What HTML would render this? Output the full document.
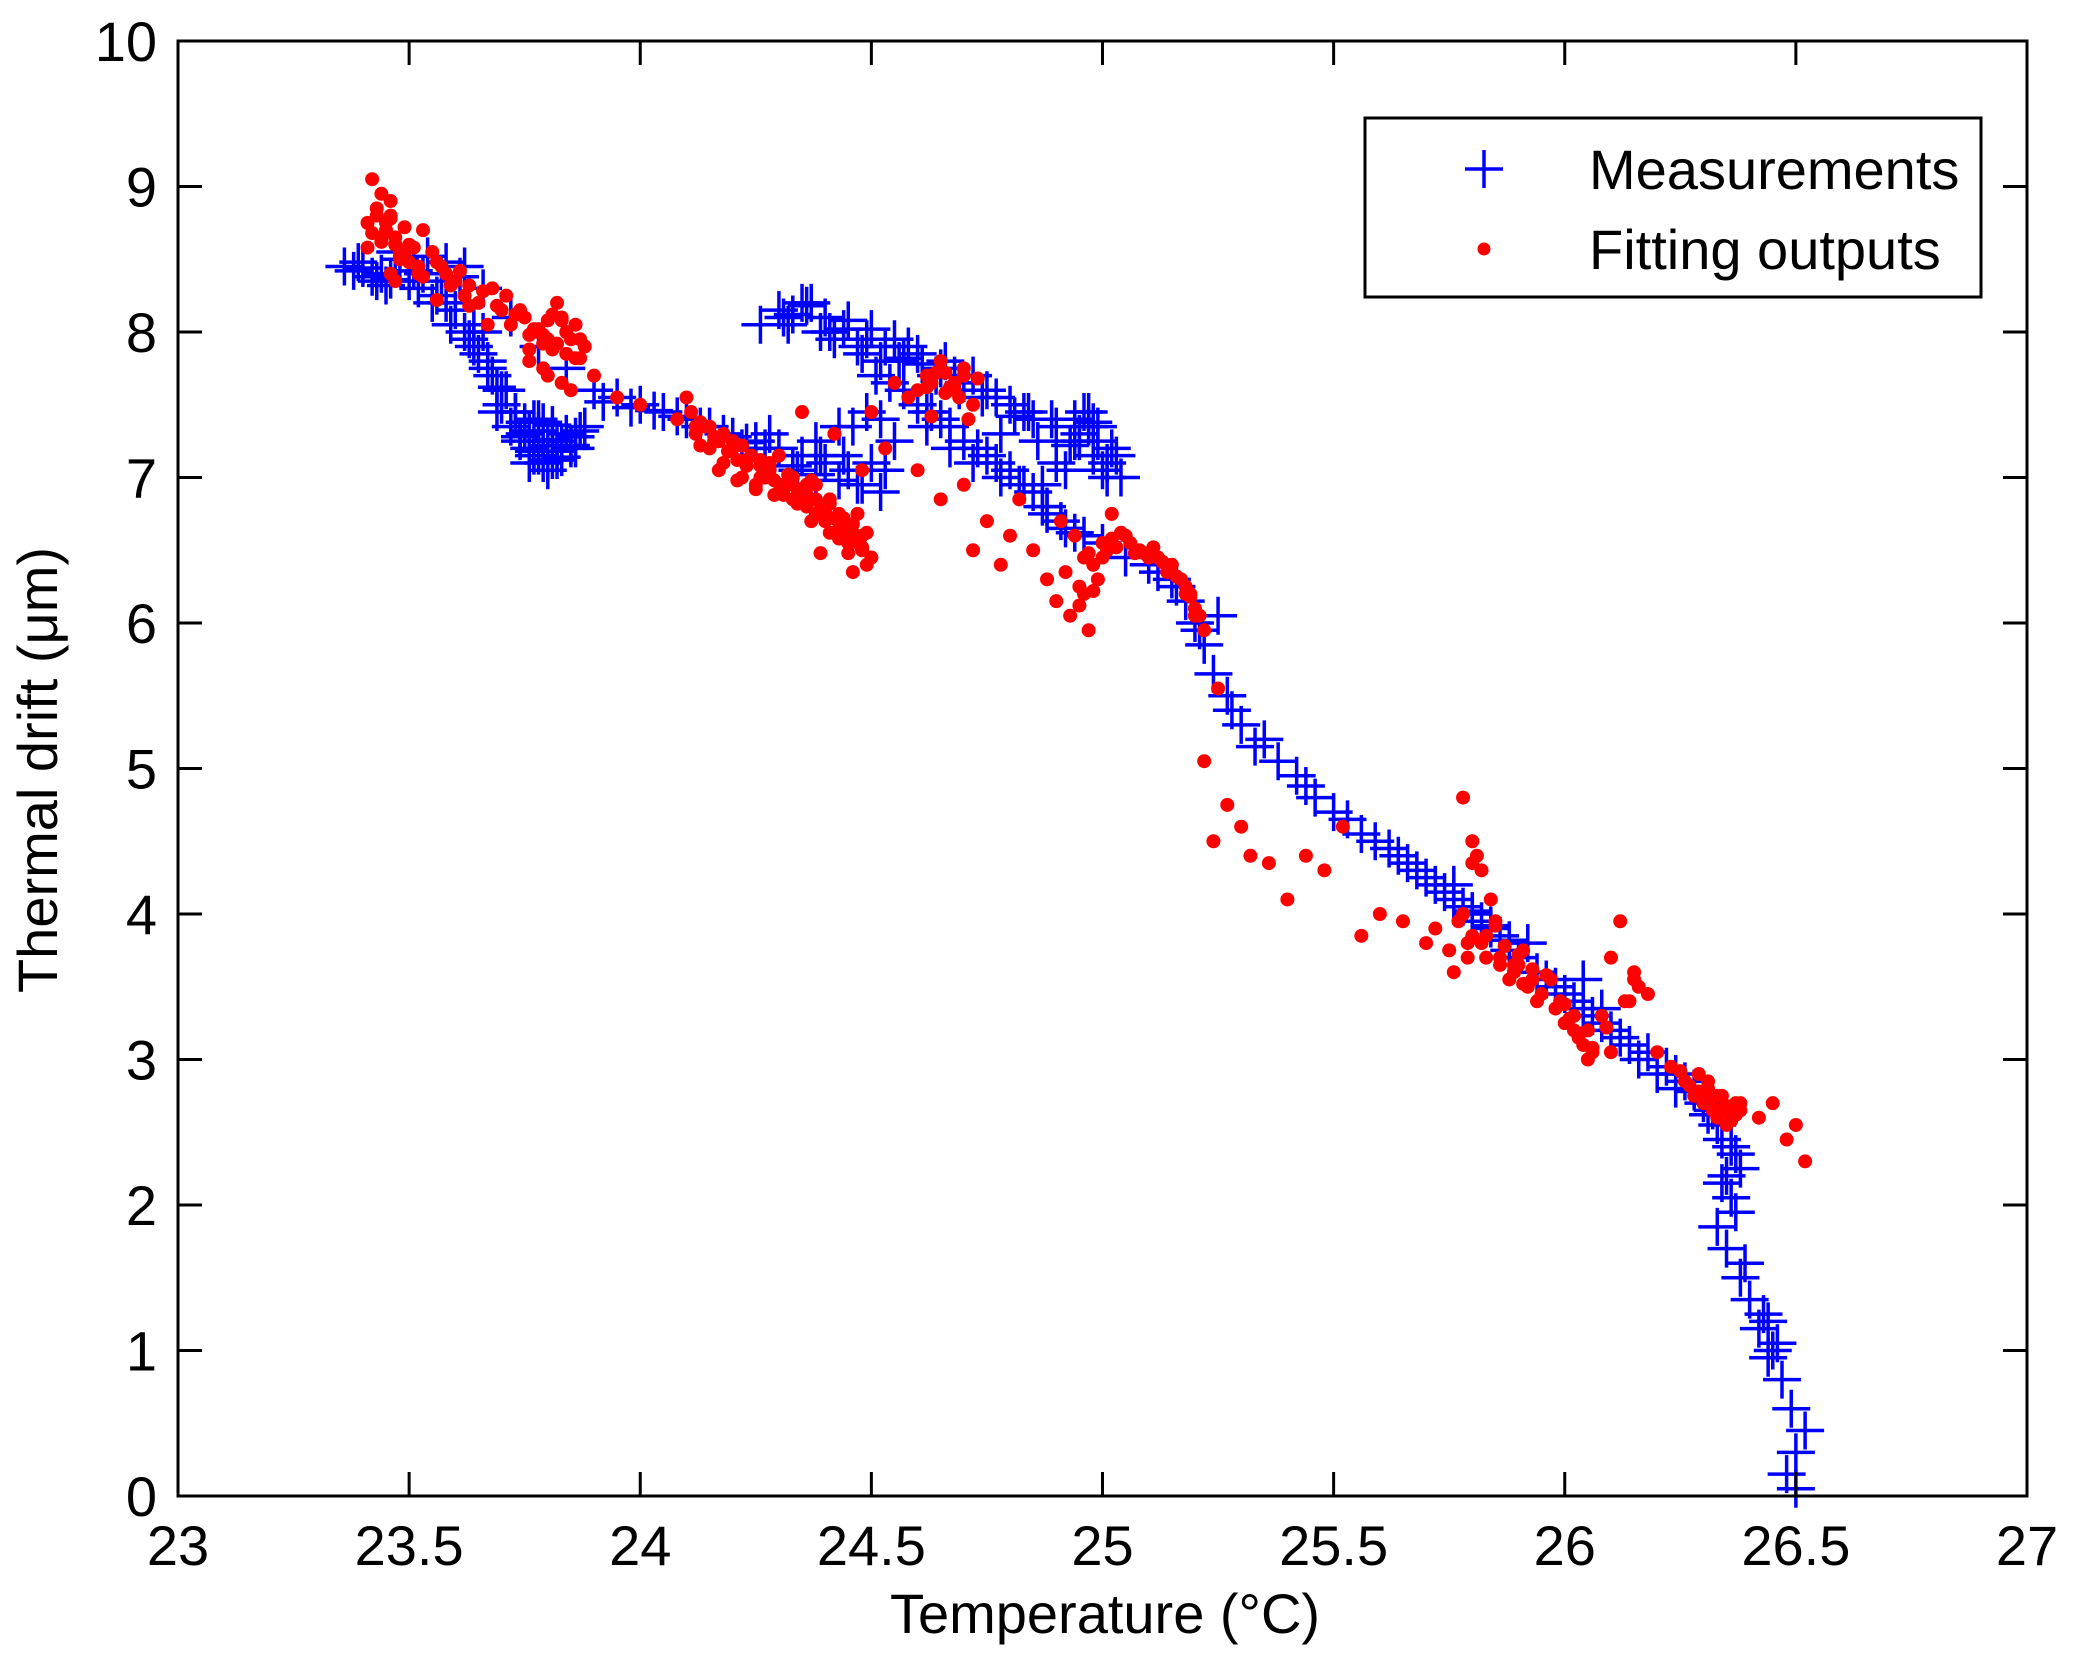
<!DOCTYPE html>
<html><head><meta charset="utf-8"><style>
html,body{margin:0;padding:0;background:#fff}
svg{display:block}
text{font-family:"Liberation Sans",Arial,sans-serif;fill:#000}
</style></head><body>
<svg id="chart" width="2079" height="1653" viewBox="0 0 2079 1653" xmlns="http://www.w3.org/2000/svg">
<rect x="0" y="0" width="2079" height="1653" fill="#fff"/>
<g id="marks"></g>
<rect x="178" y="41" width="1849" height="1455" fill="none" stroke="#000" stroke-width="3"/>
<g id="axes"></g>
<text x="0" y="0" font-size="56" text-anchor="middle" transform="translate(57,770) rotate(-90)">Thermal drift (μm)</text>
<text x="1105" y="1633" font-size="56" text-anchor="middle">Temperature (°C)</text>
<g>
<rect x="1365" y="118" width="616" height="179" fill="#fff" stroke="#000" stroke-width="3"/>
<g>
<path d="M1465 169 H1503 M1484 150 V188" stroke="#0000ff" stroke-width="3.5"/>
<text x="1589" y="189" font-size="56">Measurements</text>
</g>
<g>
<circle cx="1484" cy="249" r="6.5" fill="#ff0000"/>
<text x="1589" y="269" font-size="56">Fitting outputs</text>
</g>
</g>
</svg>
<script>
const xTicks=[23,23.5,24,24.5,25,25.5,26,26.5,27];
const xTickLabels=["23","23.5","24","24.5","25","25.5","26","26.5","27"];
const yTicks=[0,1,2,3,4,5,6,7,8,9,10];
const yTickLabels=["0","1","2","3","4","5","6","7","8","9","10"];
const measX=[23.36,23.38,23.40,23.42,23.44,23.46,23.48,23.50,23.52,23.54,23.56,23.58,23.60,23.62,23.63,23.65,23.66,23.68,23.70,23.72,23.74,23.76,23.78,23.80,23.82,23.84,23.86,23.88,23.72,23.78,23.84,23.90,23.95,24.00,24.05,24.10,24.15,24.20,24.25,24.30,24.35,24.40,24.45,24.48,24.50,24.52,24.54,24.56,24.30,24.33,24.36,24.40,24.42,24.45,24.48,24.50,24.55,24.60,24.65,24.70,24.75,24.80,24.85,24.90,24.95,24.98,25.00,25.02,24.96,24.60,24.65,24.70,24.75,24.80,24.85,24.88,24.92,24.96,25.00,25.05,25.10,25.15,25.18,25.20,25.22,25.25,25.24,25.27,25.30,25.33,25.38,25.42,25.46,25.50,25.56,25.62,25.66,25.70,25.74,25.78,25.82,25.86,25.90,25.94,25.98,26.02,26.06,26.10,26.14,26.18,26.22,26.26,26.30,26.33,26.36,26.38,26.36,26.33,26.35,26.38,26.40,26.42,26.45,26.47,26.49,26.52,26.50,26.48,26.50,
23.75,23.79,23.81,23.77,23.83,23.73,23.70,23.66,23.58,23.64,24.38,24.34,24.44,24.28,24.22,24.46,24.53,24.58,24.62,24.68,24.78,24.83,24.92,24.99,25.03,24.94,24.87,24.90,25.84,25.88,25.80,25.92,25.76,26.08,26.12,26.04,26.24,26.28,26.32,26.37,26.34,26.44,26.46,
23.76,23.78,23.80,23.82,23.79,23.77,23.74,23.81,23.85,23.87,23.69,23.71,23.67,23.62,23.57,23.53,23.47,23.43,24.32,24.37,24.41,24.47,24.52,24.57,24.63,24.67,24.73,24.77,24.82,24.88,24.94,24.97,25.01,24.99,24.51,24.49,24.55,24.43,24.39,24.47,24.52,
23.39,23.45,23.51,23.55,23.59,23.61,23.64,23.67,23.69,23.73,23.75,23.77,23.79,23.81,23.83,23.85,23.76,23.80,23.78,23.82,23.74,23.86,23.92,23.98,24.03,24.08,24.13,24.18,24.23,24.27,24.33,24.38,24.43,24.26,24.31,24.35,24.39,24.44,24.49,24.53,24.57,24.61,24.64,24.66,24.69,24.72,24.74,24.77,24.81,24.84,24.86,24.89,24.93,24.97,25.01,25.04,24.95,24.98,24.62,24.67,24.72,24.78,24.83,24.87,24.91,24.94,25.12,25.16,25.21,25.28,25.35,25.44,25.53,25.59,25.64,25.68,25.72,25.76,25.80,25.84,25.88,25.96,26.00,26.04,26.08,26.16,26.20,26.24,26.28,26.31,26.34,26.35,26.37,26.39,26.43,26.44];
const measY=[8.45,8.42,8.44,8.38,8.40,8.36,8.50,8.35,8.30,8.52,8.25,8.48,8.15,8.45,7.95,7.85,8.30,7.70,7.50,7.35,7.25,7.20,7.15,7.22,7.18,7.30,7.28,7.35,8.10,7.90,7.75,7.60,7.55,7.50,7.45,7.40,7.35,7.28,7.25,7.20,7.15,7.10,7.05,6.95,7.10,7.40,7.65,7.80,8.15,8.12,8.18,8.10,7.95,8.08,7.85,8.02,7.95,7.85,7.75,7.65,7.60,7.50,7.40,7.35,7.30,7.15,7.05,7.20,7.45,7.50,7.40,7.25,7.15,7.05,6.90,6.75,6.65,6.60,6.55,6.45,6.40,6.30,6.15,6.00,5.85,6.05,5.65,5.50,5.30,5.15,5.05,4.95,4.80,4.70,4.55,4.45,4.35,4.25,4.15,4.05,3.95,3.85,3.70,3.60,3.50,3.40,3.30,3.20,3.10,3.05,2.95,2.85,2.70,2.55,2.40,2.25,2.05,1.85,1.70,1.50,1.35,1.15,1.00,0.80,0.60,0.45,0.30,0.15,0.05,
7.30,7.25,7.12,7.40,7.22,7.45,7.60,8.00,8.20,8.05,7.25,7.05,7.15,7.30,7.20,7.35,7.05,7.90,7.45,7.70,7.30,7.45,7.05,7.25,7.15,7.40,6.95,7.10,3.90,3.75,4.00,3.80,4.20,3.35,3.15,3.55,2.90,2.80,2.65,2.35,2.15,1.20,1.05,
7.10,7.32,7.12,7.25,7.38,7.18,7.28,7.36,7.20,7.32,7.45,7.60,7.80,8.00,8.35,8.40,8.55,8.35,8.05,8.20,8.00,7.90,7.80,7.60,7.45,7.35,7.20,7.10,6.95,6.80,7.25,7.45,7.00,7.35,7.70,7.45,7.25,7.35,7.15,6.95,6.90,
8.48,8.32,8.42,8.20,8.05,8.38,7.90,7.75,7.62,7.45,7.38,7.15,7.10,7.26,7.14,7.22,7.32,7.05,7.40,7.12,7.28,7.20,7.52,7.48,7.46,7.42,7.35,7.30,7.24,7.20,7.08,7.02,6.98,8.05,8.10,8.20,8.00,8.02,7.95,7.90,7.82,7.78,7.70,7.80,7.60,7.70,7.55,7.55,7.42,7.45,7.25,7.40,7.22,7.35,7.10,7.00,7.25,7.38,7.35,7.20,7.10,7.00,6.95,6.80,6.70,6.62,6.35,6.25,5.95,5.40,5.20,4.88,4.65,4.50,4.40,4.30,4.20,4.10,4.02,3.92,3.82,3.55,3.45,3.35,3.25,3.00,2.90,2.80,2.78,2.62,2.45,2.20,1.95,1.60,1.25,0.95];
const fitX=[23.42,23.44,23.43,23.45,23.47,23.50,23.48,23.52,23.55,23.58,23.60,23.62,23.65,23.68,23.70,23.72,23.75,23.78,23.80,23.82,23.84,23.86,23.88,23.80,23.85,23.90,23.95,24.00,24.08,24.10,24.12,24.15,24.18,24.20,24.22,24.25,24.28,24.30,24.33,24.36,24.38,24.40,24.43,24.45,24.48,24.50,24.46,24.35,24.42,24.48,24.53,24.50,24.55,24.58,24.62,24.65,24.68,24.70,24.72,24.60,24.65,24.70,24.75,24.72,24.78,24.80,24.82,24.85,24.88,24.90,24.93,24.95,24.97,24.98,25.00,25.02,25.05,25.08,25.12,25.15,25.18,25.20,25.22,25.25,25.22,25.24,25.27,25.30,25.32,25.36,25.40,25.44,25.48,25.52,25.56,25.60,25.65,25.70,25.75,25.78,25.80,25.82,25.84,25.86,25.88,25.90,25.92,25.95,25.98,26.00,26.03,26.05,26.08,26.10,26.12,26.15,26.18,26.20,26.23,26.26,26.28,26.30,26.33,26.35,26.38,26.42,26.45,26.48,26.52,26.50,25.72,25.76,25.80,26.10,
23.41,23.46,23.44,23.49,23.53,23.46,23.56,23.61,23.66,23.74,23.79,23.83,23.87,23.81,23.76,24.14,24.17,24.24,24.27,24.32,24.34,24.39,24.41,24.44,24.47,24.49,24.37,24.31,24.26,24.64,24.67,24.71,24.63,24.96,24.99,25.01,25.04,25.11,25.14,25.17,25.19,25.21,25.79,25.81,25.83,25.85,25.89,25.91,25.94,25.97,26.02,26.04,26.06,26.31,26.32,26.34,26.36,26.29,26.37,26.16,26.14,
23.43,23.45,23.47,23.49,23.51,23.44,23.46,23.48,23.42,23.57,23.63,23.69,23.73,23.77,23.79,23.83,23.85,23.87,23.81,23.76,24.11,24.13,24.16,24.19,24.21,24.23,24.26,24.29,24.32,24.35,24.38,24.40,24.42,24.44,24.46,24.48,24.43,24.39,24.36,24.33,24.28,24.24,24.20,24.16,24.12,24.47,24.45,24.41,24.62,24.66,24.69,24.73,24.91,24.94,24.97,25.00,25.03,25.06,25.09,25.13,25.16,25.19,25.77,25.79,25.82,25.86,25.90,25.93,25.96,26.00,26.02,26.05,26.33,26.35,26.31,26.29,26.37,
23.44,23.46,23.48,23.50,23.53,23.41,23.47,23.52,23.56,23.59,23.63,23.67,23.71,23.74,23.76,23.78,23.80,23.82,23.84,23.86,23.79,23.83,24.13,24.15,24.17,24.19,24.21,24.23,24.25,24.27,24.29,24.31,24.34,24.36,24.38,24.40,24.42,24.44,24.46,24.48,24.49,24.41,24.37,24.30,24.26,24.22,24.18,24.45,24.43,24.39,24.64,24.66,24.68,24.70,24.60,24.63,24.92,24.95,24.98,24.96,25.02,25.07,25.10,25.14,25.18,25.20,25.78,25.80,25.83,25.85,25.87,25.89,25.91,25.93,25.99,26.01,26.03,26.06,26.09,26.13,26.15,26.30,26.32,26.34,26.36,26.38,26.27,26.25];
const fitY=[9.05,8.95,8.80,8.70,8.65,8.60,8.50,8.45,8.55,8.40,8.35,8.25,8.20,8.30,8.15,8.05,8.10,8.00,7.95,8.20,7.85,8.05,7.90,7.70,7.60,7.70,7.55,7.50,7.40,7.55,7.30,7.20,7.10,7.25,7.00,6.95,7.05,6.90,6.85,6.80,6.95,6.70,6.65,6.55,6.60,6.45,6.35,7.45,7.30,7.05,7.20,7.45,7.65,7.55,7.70,7.80,7.60,7.75,7.50,7.05,6.85,6.95,6.70,6.50,6.40,6.60,6.85,6.50,6.30,6.15,6.05,6.25,5.95,6.40,6.55,6.75,6.60,6.50,6.45,6.40,6.25,6.10,5.95,5.55,5.05,4.50,4.75,4.60,4.40,4.35,4.10,4.40,4.30,4.60,3.85,4.00,3.95,3.80,3.75,4.80,4.50,4.30,4.10,3.70,3.55,3.65,3.50,3.45,3.35,3.25,3.15,3.00,3.30,3.70,3.95,3.60,3.45,3.05,2.95,2.85,2.75,2.70,2.60,2.55,2.65,2.60,2.70,2.45,2.30,2.55,3.90,3.60,3.85,3.05,
8.75,8.80,8.62,8.55,8.70,8.40,8.48,8.42,8.28,8.12,7.98,8.08,7.95,7.88,7.80,7.35,7.25,7.15,7.00,7.02,6.92,6.78,6.62,6.72,6.55,6.62,6.70,6.88,7.12,7.72,7.62,7.40,7.65,6.20,6.30,6.50,6.62,6.52,6.35,6.30,6.20,6.05,3.80,4.40,3.70,3.95,3.60,3.75,3.40,3.55,3.20,3.10,3.05,2.80,2.65,2.75,2.60,2.90,2.70,3.50,3.40,
8.85,8.75,8.60,8.72,8.58,8.65,8.90,8.52,8.68,8.45,8.32,8.18,8.12,8.02,7.92,8.10,7.95,7.82,8.12,7.88,7.45,7.38,7.28,7.18,7.12,7.08,7.00,6.98,6.95,6.90,6.85,6.78,6.72,6.68,6.62,6.50,6.58,6.75,6.95,7.00,7.10,7.15,7.20,7.25,7.35,6.75,6.48,6.82,7.62,7.72,7.55,7.68,6.70,6.60,6.48,6.45,6.52,6.55,6.48,6.42,6.32,6.18,3.95,3.70,3.80,3.65,3.72,3.55,3.58,3.38,3.30,3.20,2.75,2.68,2.85,2.78,2.62,
8.62,8.78,8.55,8.48,8.38,8.58,8.35,8.40,8.22,8.32,8.18,8.05,8.25,8.15,7.98,8.02,8.08,7.92,8.00,7.82,7.75,7.65,7.22,7.35,7.05,7.18,6.98,7.12,6.92,7.02,6.88,6.95,6.82,6.88,6.75,6.80,6.72,6.58,6.68,6.52,6.40,6.85,6.98,7.15,7.08,7.22,7.30,6.60,6.75,6.48,7.72,7.58,7.65,7.70,7.60,7.42,6.35,6.12,6.22,6.45,6.58,6.48,6.45,6.38,6.20,6.05,4.00,4.35,3.85,3.92,3.78,3.65,3.52,3.62,3.40,3.28,3.18,3.08,3.22,3.40,3.55,2.78,2.72,2.65,2.58,2.70,2.82,2.92];
const X0=178,X1=2027,Y0=1496,Y1=41;
function xs(v){return X0+(v-23)/(27-23)*(X1-X0);}
function ys(v){return Y0-(v-0)/(10-0)*(Y0-Y1);}
const NS="http://www.w3.org/2000/svg";
const marks=document.getElementById('marks');
const axes=document.getElementById('axes');
for(let i=0;i<measX.length;i++){
  const p=document.createElementNS(NS,'path');
  const cx=xs(measX[i]),cy=ys(measY[i]);
  p.setAttribute('d',`M${cx-19} ${cy}H${cx+19}M${cx} ${cy-19}V${cy+19}`);
  p.setAttribute('stroke','#0000ff');p.setAttribute('stroke-width','3.5');
  
  
  marks.appendChild(p);
}
for(let i=0;i<fitX.length;i++){
  const c=document.createElementNS(NS,'circle');
  c.setAttribute('cx',xs(fitX[i]));c.setAttribute('cy',ys(fitY[i]));c.setAttribute('r','7');
  c.setAttribute('fill','#ff0000');
  
  
  marks.appendChild(c);
}
xTicks.forEach((t,i)=>{
  const x=xs(t);
  const l=document.createElementNS(NS,'path');
  l.setAttribute('d',`M${x} ${Y0}V${Y0-24}M${x} ${Y1}V${Y1+24}`);
  l.setAttribute('stroke','#000');l.setAttribute('stroke-width','3');
  
  
  axes.appendChild(l);
  const tx=document.createElementNS(NS,'text');
  tx.setAttribute('x',x);tx.setAttribute('y',1565);
  tx.setAttribute('font-size','56');tx.setAttribute('text-anchor','middle');
  tx.textContent=xTickLabels[i];
  
  
  axes.appendChild(tx);
});
yTicks.forEach((t,i)=>{
  const y=ys(t);
  const l=document.createElementNS(NS,'path');
  l.setAttribute('d',`M${X0} ${y}H${X0+24}M${X1} ${y}H${X1-24}`);
  l.setAttribute('stroke','#000');l.setAttribute('stroke-width','3');
  
  
  axes.appendChild(l);
  const tx=document.createElementNS(NS,'text');
  tx.setAttribute('x',157);tx.setAttribute('y',y+20);
  tx.setAttribute('font-size','56');tx.setAttribute('text-anchor','end');
  tx.textContent=yTickLabels[i];
  
  
  axes.appendChild(tx);
});
</script>
</body></html>
